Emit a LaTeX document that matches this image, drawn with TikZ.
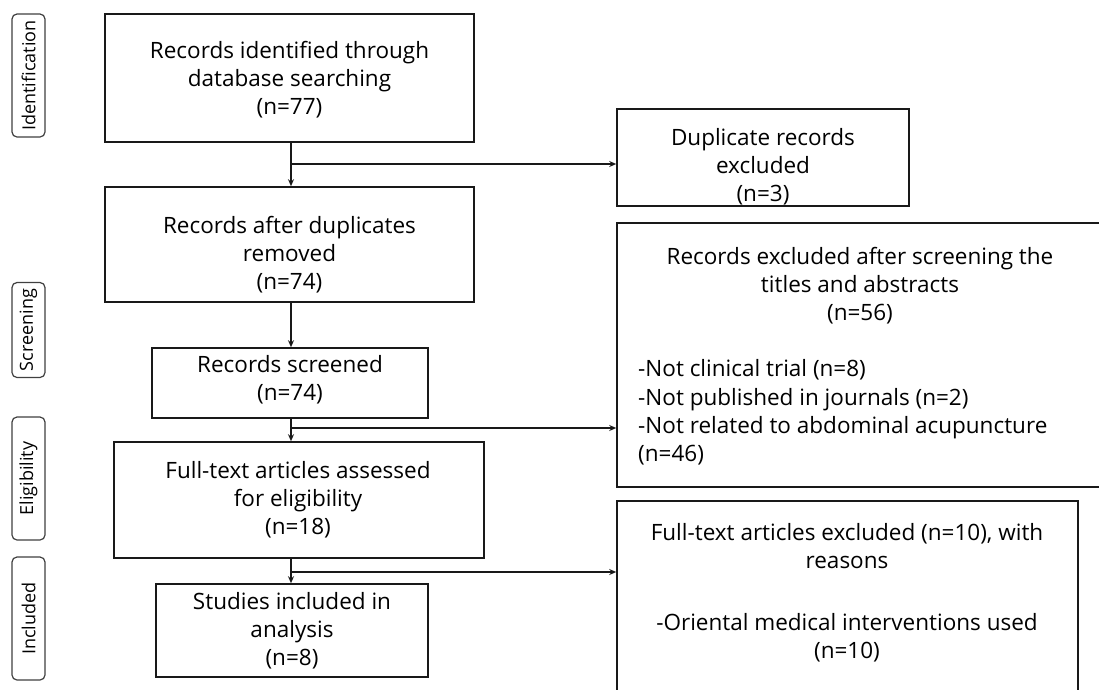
\documentclass[tikz,border=0pt]{standalone}
\usepackage{fontspec}
\setmainfont{Open Sans}
\usetikzlibrary{arrows.meta}
\begin{document}
\begin{tikzpicture}[x=1pt,y=-1pt,
  box/.style={draw=black!90,line width=1.6pt,rectangle,inner sep=0pt,fill=none},
  txt/.style={align=center,inner sep=0pt,font=\fontsize{22.5}{28}\selectfont,text=black},
  ltxt/.style={align=left,inner sep=0pt,font=\fontsize{22.5}{28.3}\selectfont,text=black},
  stage/.style={draw=black!75,line width=1.2pt,rounded corners=5pt,rotate=90,minimum height=33pt,inner sep=0pt,font=\fontsize{18}{20}\selectfont,text=black},
  conn/.style={line width=1.4pt,draw=black!90},
  arr/.style={conn,-{Stealth[length=7pt,width=6pt]}}
]
\clip (0,0) rectangle (1099,689);
\fill[white] (0,0) rectangle (1099,689);

% stage labels
\node[stage,minimum width=123pt] (sId) at (28.5,75.5) {Identification};
\node[stage,minimum width=95pt] (sSc) at (28.5,330) {Screening};
\node[stage,minimum width=123pt] (sEl) at (28.5,478.5) {Eligibility};
\node[stage,minimum width=123pt] (sIn) at (28.5,618.5) {Included};

% main boxes
\node[box,minimum width=369pt,minimum height=128pt] (b1) at (289.5,78) {};
\node[txt] (t1) at (289.5,80) {Records identified through\\database searching\\(n=77)};

\node[box,minimum width=292pt,minimum height=97pt] (dup) at (763,157.5) {};
\node[txt] (tdup) at (763,166.5) {Duplicate records\\excluded\\(n=3)};

\node[box,minimum width=369pt,minimum height=115pt] (b3) at (289.5,244.5) {};
\node[txt] (t3) at (289.5,255) {Records after duplicates\\removed\\(n=74)};

\node[box,minimum width=276pt,minimum height=70pt] (b4) at (290,383) {};
\node[txt] (t4) at (290,380) {Records screened\\(n=74)};

\node[box,minimum width=370pt,minimum height=116pt] (b5) at (299,500) {};
\node[txt] (t5) at (298,500) {Full-text articles assessed\\for eligibility\\(n=18)};

\node[box,minimum width=272pt,minimum height=93pt] (b6) at (292,630.5) {};
\node[txt] (t6) at (292,631) {Studies included in\\analysis\\(n=8)};

% right boxes
\node[box,minimum width=486pt,minimum height=264pt] (rex) at (860,355) {};
\node[txt] (trex1) at (860,286) {Records excluded after screening the\\titles and abstracts\\(n=56)};
\node[ltxt,anchor=west] (trex2) at (638,412.5) {-Not clinical trial (n=8)\\-Not published in journals (n=2)\\-Not related to abdominal acupuncture\\(n=46)};

\node[box,minimum width=461pt,minimum height=194pt] (fex) at (847.5,598) {};
\node[txt] (tfex1) at (847,546.5) {Full-text articles excluded (n=10), with\\reasons};
\node[txt] (tfex2) at (847,637.5) {-Oriental medical interventions used\\(n=10)};

% connectors
\coordinate (j1) at (291,164);
\coordinate (j2) at (291,428);
\coordinate (j3) at (291,572);
\draw[arr] (b1.south -| j1) -- (b3.north -| j1);
\draw[arr] (j1) -- (j1 -| dup.west);
\draw[arr] (b3.south -| j1) -- (b4.north -| j1);
\draw[arr] (b4.south -| j2) -- (b5.north -| j2);
\draw[arr] (j2) -- (j2 -| rex.west);
\draw[arr] (b5.south -| j3) -- (b6.north -| j3);
\draw[arr] (j3) -- (j3 -| fex.west);
\end{tikzpicture}
\end{document}
